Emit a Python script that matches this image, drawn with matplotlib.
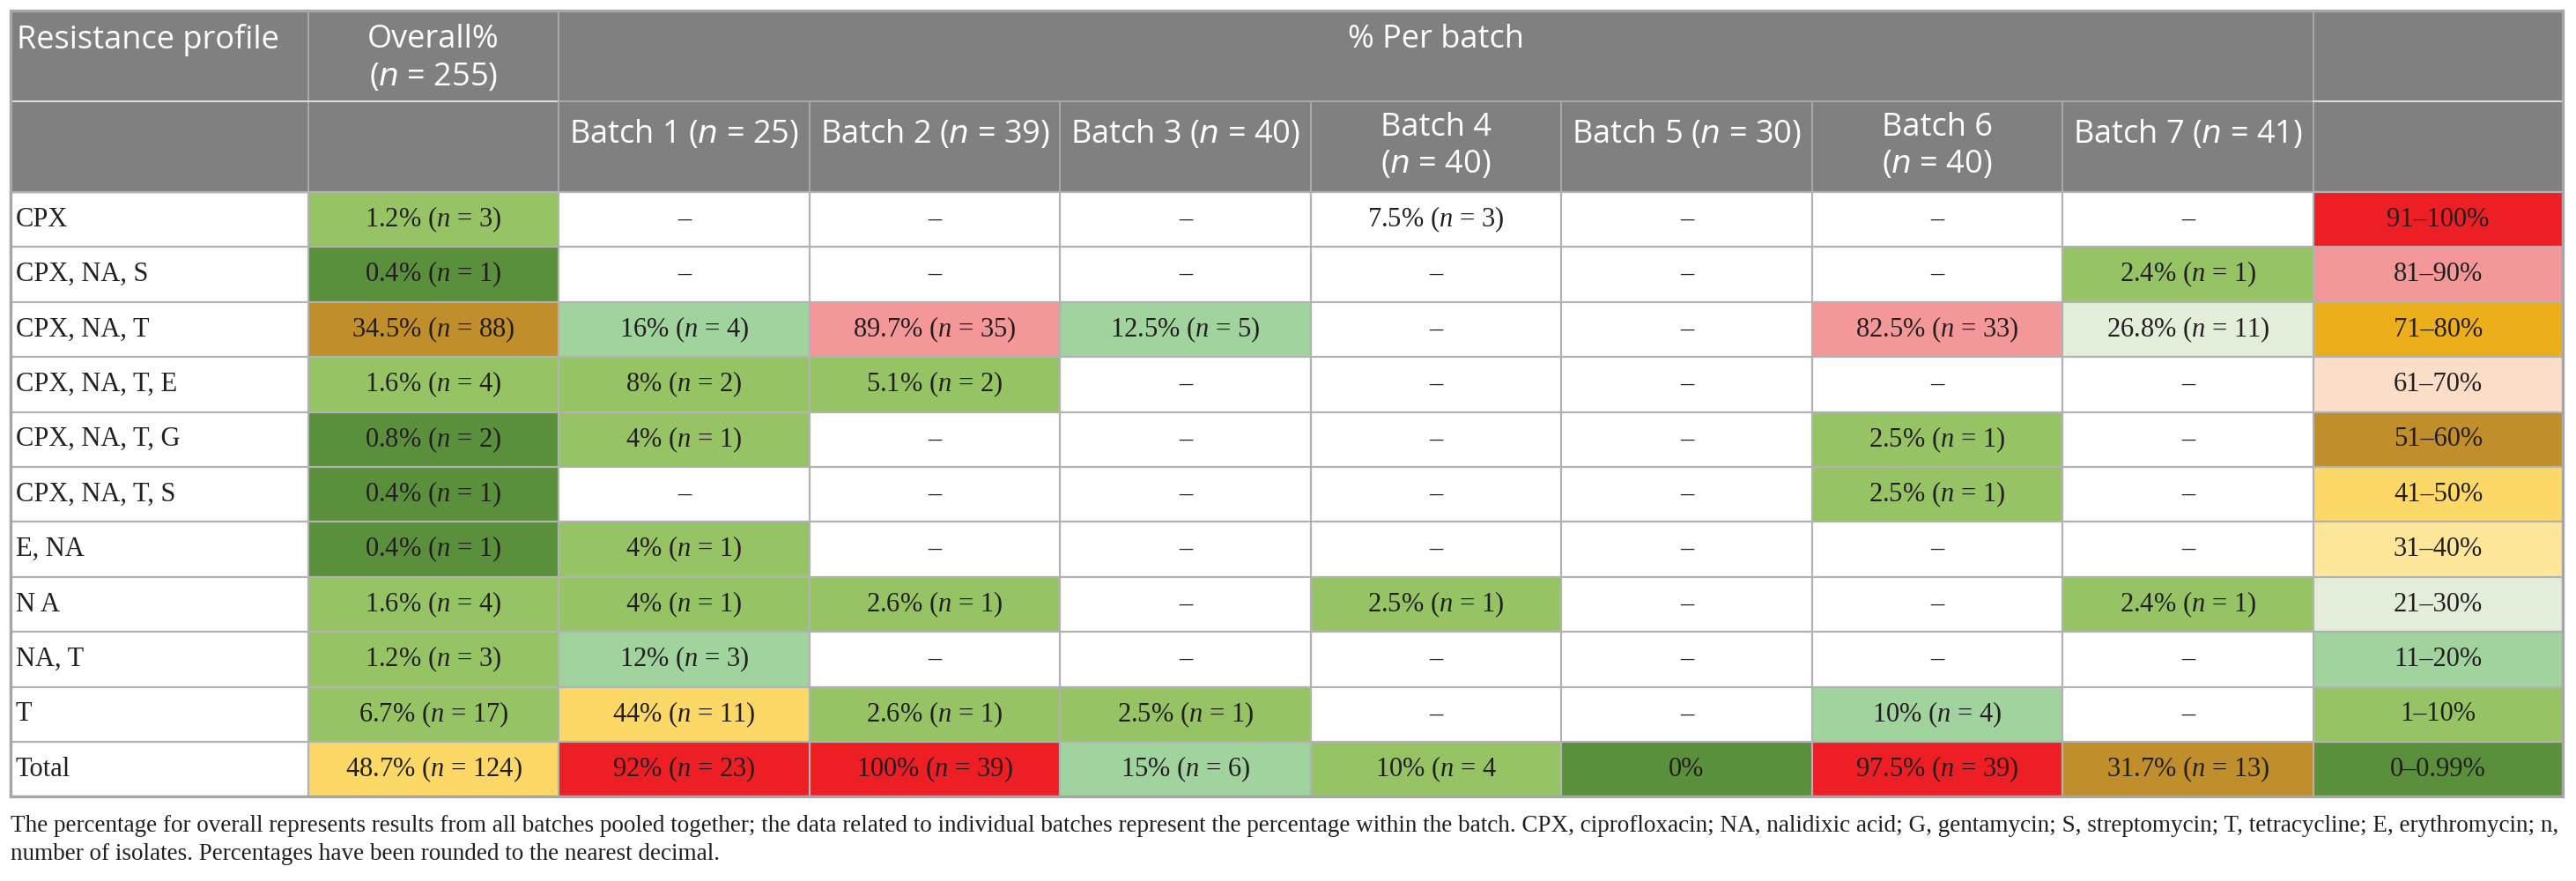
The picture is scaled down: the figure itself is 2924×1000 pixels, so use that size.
import matplotlib.pyplot as plt
from matplotlib.patches import Rectangle

plt.rcParams['mathtext.fontset'] = 'custom'
plt.rcParams['mathtext.rm'] = 'Liberation Serif'
plt.rcParams['mathtext.it'] = 'Liberation Serif:italic'

# table content
profiles = ['CPX', 'CPX, NA, S', 'CPX, NA, T', 'CPX, NA, T, E', 'CPX, NA, T, G',
            'CPX, NA, T, S', 'E, NA', 'N A', 'NA, T', 'T', 'Total']

overall = ['1.2% (n = 3)', '0.4% (n = 1)', '34.5% (n = 88)', '1.6% (n = 4)', '0.8% (n = 2)',
           '0.4% (n = 1)', '0.4% (n = 1)', '1.6% (n = 4)', '1.2% (n = 3)', '6.7% (n = 17)',
           '48.7% (n = 124)']
batch1 = ['–', '–', '16% (n = 4)', '8% (n = 2)', '4% (n = 1)', '–', '4% (n = 1)',
          '4% (n = 1)', '12% (n = 3)', '44% (n = 11)', '92% (n = 23)']
batch2 = ['–', '–', '89.7% (n = 35)', '5.1% (n = 2)', '–', '–', '–', '2.6% (n = 1)', '–',
          '2.6% (n = 1)', '100% (n = 39)']
batch3 = ['–', '–', '12.5% (n = 5)', '–', '–', '–', '–', '–', '–', '2.5% (n = 1)', '15% (n = 6)']
batch4 = ['7.5% (n = 3)', '–', '–', '–', '–', '–', '–', '2.5% (n = 1)', '–', '–', '10% (n = 4']
batch5 = ['–', '–', '–', '–', '–', '–', '–', '–', '–', '–', '0%']
batch6 = ['–', '–', '82.5% (n = 33)', '–', '2.5% (n = 1)', '2.5% (n = 1)', '–', '–', '–',
          '10% (n = 4)', '97.5% (n = 39)']
batch7 = ['–', '2.4% (n = 1)', '26.8% (n = 11)', '–', '–', '–', '–', '2.4% (n = 1)', '–', '–',
          '31.7% (n = 13)']

# colour band of each cell (index into legend_labels, None = no shading)
N = None
overall_bin = [9, 10, 4, 9, 10, 10, 10, 9, 9, 9, 5]
batch1_bin = [N, N, 8, 9, 9, N, 9, 9, 8, 5, 0]
batch2_bin = [N, N, 1, 9, N, N, N, 9, N, 9, 0]
batch3_bin = [N, N, 8, N, N, N, N, N, N, 9, 8]
batch4_bin = [N, N, N, N, N, N, N, 9, N, N, 9]
batch5_bin = [N, N, N, N, N, N, N, N, N, N, 10]
batch6_bin = [N, N, 1, N, 9, 9, N, N, N, 8, 0]
batch7_bin = [N, 9, 7, N, N, N, N, 9, N, N, 4]

legend_labels = ['91–100%', '81–90%', '71–80%', '61–70%', '51–60%', '41–50%',
                 '31–40%', '21–30%', '11–20%', '1–10%', '0–0.99%']
legend_colors = ['#ED1E24', '#F39799', '#EBAF1B', '#FBDEC8', '#C08E2B', '#FCD866',
                 '#FEE79B', '#E2EDDA', '#A1D39F', '#96C465', '#5A8F3C']

batch_heads = [['Batch 1 (n = 25)'], ['Batch 2 (n = 39)'], ['Batch 3 (n = 40)'],
               ['Batch 4', '(n = 40)'], ['Batch 5 (n = 30)'], ['Batch 6', '(n = 40)'],
               ['Batch 7 (n = 41)']]

footnote = ['The percentage for overall represents results from all batches pooled together; '
            'the data related to individual batches represent the percentage within the batch. '
            'CPX, ciprofloxacin; NA, nalidixic acid; G, gentamycin; S, streptomycin; '
            'T, tetracycline; E, erythromycin; n,',
            'number of isolates. Percentages have been rounded to the nearest decimal.']

columns = [overall, batch1, batch2, batch3, batch4, batch5, batch6, batch7]
col_bins = [overall_bin, batch1_bin, batch2_bin, batch3_bin, batch4_bin, batch5_bin,
            batch6_bin, batch7_bin]

# layout (pixels)
xe = [12, 350, 634, 919, 1203, 1488, 1772, 2057, 2341, 2626, 2909]
y_top, y_h1, y_h2 = 12, 115, 218
row_h = 62.4
n_rows = len(profiles)
y_bot = y_h2 + row_h * n_rows

fig = plt.figure(figsize=(29.24, 10), dpi=100)
ax = fig.add_axes([0, 0, 1, 1])
ax.set_xlim(0, 2924)
ax.set_ylim(1000, 0)
ax.axis('off')

grid_c = '#B2B2B2'
head_font = 'Open Sans'
serif = 'Liberation Serif'


def mt(s):
    return s.replace('n =', '$n$ =')


# header block
ax.add_patch(Rectangle((xe[0], y_top), xe[-1] - xe[0], y_h2 - y_top, color='#808080', zorder=1))
hs = 26
ax.text(19, 45, 'Resistance profile', ha='left', va='center', color='white',
        fontsize=hs, family=head_font)
cx = (xe[1] + xe[2]) / 2
ax.text(cx, 45, 'Overall%', ha='center', va='center', color='white', fontsize=hs, family=head_font)
ax.text(cx, 88, mt('(n = 255)'), ha='center', va='center', color='white', fontsize=hs,
        family=head_font, math_fontfamily='dejavusans')
ax.text((xe[2] + xe[9]) / 2, 45, '% Per batch', ha='center', va='center', color='white',
        fontsize=hs, family=head_font)
for j, lines in enumerate(batch_heads):
    cx = (xe[j + 2] + xe[j + 3]) / 2
    y0 = 152 if len(lines) == 1 else 145
    for k, line in enumerate(lines):
        ax.text(cx, y0 + 42 * k, mt(line), ha='center', va='center', color='white',
                fontsize=hs, family=head_font, math_fontfamily='dejavusans')

# header lines
for x in [xe[1], xe[2], xe[9]]:
    ax.plot([x, x], [y_top, y_h2], color='#A8A8A8', lw=1.5, zorder=3)
for x in xe[3:9]:
    ax.plot([x, x], [y_h1, y_h2], color='#A8A8A8', lw=1.5, zorder=3)
ax.plot([xe[0], xe[2]], [y_h1, y_h1], color='#DADADA', lw=1.5, zorder=3)
ax.plot([xe[2], xe[9]], [y_h1, y_h1], color='#A8A8A8', lw=1.5, zorder=3)
ax.plot([xe[9], xe[10]], [y_h1, y_h1], color='#DADADA', lw=1.5, zorder=3)

# body cells
ds = 22
for i in range(n_rows):
    y0 = y_h2 + row_h * i
    yc = y0 + row_h / 2
    ax.text(18, yc, profiles[i], ha='left', va='center', fontsize=ds, family=serif,
            color='#231F20', zorder=4)
    for j, col in enumerate(columns):
        b = col_bins[j][i]
        fc = 'white' if b is None else legend_colors[b]
        ax.add_patch(Rectangle((xe[j + 1], y0), xe[j + 2] - xe[j + 1], row_h, color=fc, zorder=1))
        ax.text((xe[j + 1] + xe[j + 2]) / 2, yc, mt(col[i]), ha='center', va='center',
                fontsize=ds, family=serif, color='#231F20', zorder=4)
    ax.add_patch(Rectangle((xe[9], y0), xe[10] - xe[9], row_h, color=legend_colors[i], zorder=1))
    ax.text((xe[9] + xe[10]) / 2, yc, legend_labels[i], ha='center', va='center',
            fontsize=ds, family=serif, color='#231F20', zorder=4)

# body grid
for i in range(n_rows + 1):
    y = y_h2 + row_h * i
    ax.plot([xe[0], xe[-1]], [y, y], color=grid_c, lw=1.6, zorder=3)
for x in xe:
    ax.plot([x, x], [y_h2, y_bot], color=grid_c, lw=1.6, zorder=3)

# outer border
ax.add_patch(Rectangle((xe[0], y_top), xe[-1] - xe[0], y_bot - y_top, fill=False,
                       edgecolor='#A6A6A6', lw=2.4, zorder=5))

# footnote, first line shrunk to end at the table's right edge
fs = 19.7
t1 = ax.text(12, 938, footnote[0], ha='left', va='center', fontsize=fs, family=serif,
             color='#231F20')
r = fig.canvas.get_renderer()
w = t1.get_window_extent(r).width
fs = fs * (xe[-1] - 14) / w
t1.set_fontsize(fs)
ax.text(12, 969, footnote[1], ha='left', va='center', fontsize=fs, family=serif, color='#231F20')

fig.savefig('out.png', dpi=100, facecolor='white')
